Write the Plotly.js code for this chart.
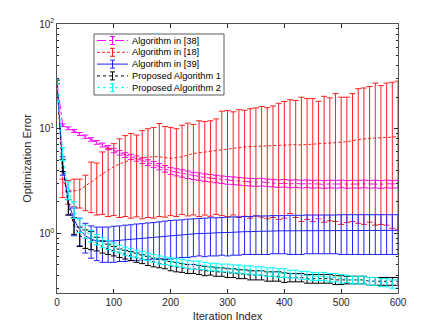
<!DOCTYPE html>
<html>
<head>
<meta charset="utf-8">
<script src="https://cdn.plot.ly/plotly-3.0.1.min.js"></script>
<style>
  html, body { margin: 0; padding: 0; background: #fff; }
  #plot { width: 440px; height: 330px; }
</style>
</head>
<body>
<div id="plot"></div>
<script>
// iteration index (one error bar every 10 iterations)
var iters = [0,10,20,30,40,50,60,70,80,90,100,110,120,130,140,150,160,170,180,190,200,
  210,220,230,240,250,260,270,280,290,300,310,320,330,340,350,360,370,380,390,400,
  410,420,430,440,450,460,470,480,490,500,510,520,530,540,550,560,570,580,590,600];

// Algorithm in [38]
var alg38Mean = [28,10.8,10.1,9.5,8.9,8.4,7.9,7.4,7.0,6.6,6.2,5.9,5.6,5.4,5.2,4.95,4.75,4.55,4.35,4.15,3.95,
  3.85,3.75,3.65,3.55,3.5,3.42,3.38,3.32,3.27,3.22,3.2,3.16,3.12,3.1,3.08,3.1,3.05,3.03,3.0,3.02,
  2.98,3.0,2.97,2.99,2.96,2.98,2.95,2.97,2.96,2.98,2.95,2.97,2.96,2.98,2.96,2.97,2.95,2.98,2.96,2.97];
var alg38Err = [1.0,0.3,0.3,0.3,0.3,0.3,0.3,0.3,0.3,0.3,0.3,0.3,0.3,0.3,0.3,0.3,0.3,0.3,0.3,0.3,0.3,
  0.3,0.3,0.3,0.28,0.28,0.28,0.28,0.27,0.27,0.27,0.27,0.26,0.26,0.26,0.26,0.26,0.25,0.25,0.25,0.25,
  0.25,0.25,0.25,0.25,0.25,0.25,0.25,0.25,0.25,0.25,0.25,0.25,0.25,0.25,0.25,0.25,0.25,0.25,0.25,0.25];

// Algorithm in [18]
var alg18Mean = [28,3.2,2.6,2.55,2.6,2.85,3.1,3.4,3.7,4.0,4.35,4.6,4.85,5.05,5.2,5.3,5.35,5.4,5.4,5.3,5.2,
  5.3,5.4,5.6,5.8,5.9,6.0,6.1,6.25,6.35,6.45,6.55,6.6,6.7,6.75,6.8,6.85,6.9,6.95,7.0,7.05,
  7.1,7.05,7.0,7.05,7.1,7.15,7.2,7.25,7.3,7.4,7.5,7.7,7.9,8.0,8.1,8.2,8.2,8.25,8.3,8.4];
var alg18Upper = [29,3.3,3.2,3.3,3.3,3.6,4.8,4.7,6.0,6.5,7.2,8.0,8.6,9.0,8.7,9.6,10.0,10.3,11.2,10.5,10.3,
  10.0,10.8,11.3,11.0,11.9,11.7,11.9,12.4,14.7,14.9,14.5,15.2,15.0,15.5,15.8,16.3,15.9,16.5,17.5,18.2,
  18.9,18.6,20.0,19.4,19.4,18.3,20.4,19.7,21.6,20.0,20.0,21.6,24.1,24.5,25.3,27.3,25.8,27.3,27.8,28.5];
var alg18Lower = [27,2.2,1.9,1.8,1.75,1.65,1.58,1.5,1.52,1.45,1.48,1.42,1.45,1.4,1.44,1.38,1.42,1.4,1.45,1.43,1.48,
  1.45,1.52,1.47,1.5,1.45,1.5,1.46,1.52,1.48,1.45,1.5,1.42,1.46,1.4,1.47,1.43,1.38,1.42,1.36,1.4,
  1.55,1.42,1.3,1.36,1.3,1.38,1.28,1.32,1.3,1.22,1.27,1.3,1.25,1.22,1.28,1.2,1.22,1.2,1.12,1.08];

// Algorithm in [39]
var alg39Mean = [28,4.5,2.0,1.35,1.08,0.95,0.88,0.85,0.84,0.84,0.85,0.86,0.87,0.88,0.89,0.9,0.91,0.92,0.93,0.94,0.95,
  0.96,0.97,0.98,0.99,1.0,1.0,1.01,1.01,1.02,1.02,1.03,1.03,1.04,1.04,1.05,1.05,1.05,1.06,1.06,1.06,
  1.06,1.06,1.06,1.07,1.07,1.07,1.07,1.07,1.07,1.07,1.07,1.07,1.07,1.07,1.07,1.07,1.07,1.07,1.07,1.07];
var alg39Err = [1.0,0.9,0.5,0.4,0.32,0.3,0.3,0.3,0.31,0.31,0.32,0.32,0.33,0.33,0.34,0.34,0.35,0.35,0.36,0.37,0.38,
  0.38,0.38,0.39,0.39,0.39,0.4,0.4,0.4,0.4,0.41,0.41,0.41,0.41,0.41,0.42,0.42,0.42,0.42,0.42,0.42,
  0.43,0.43,0.43,0.43,0.43,0.43,0.43,0.43,0.43,0.44,0.44,0.44,0.44,0.44,0.44,0.44,0.44,0.44,0.44,0.44];

// Proposed Algorithm 1
var prop1Mean = [28,4.5,1.8,1.2,0.95,0.9,0.87,0.8,0.75,0.71,0.68,0.65,0.63,0.61,0.59,0.57,0.55,0.53,0.52,0.51,0.49,
  0.48,0.47,0.46,0.46,0.45,0.44,0.44,0.43,0.43,0.42,0.42,0.41,0.41,0.4,0.4,0.4,0.39,0.39,0.39,0.38,
  0.38,0.38,0.38,0.37,0.37,0.37,0.37,0.37,0.36,0.36,0.36,0.36,0.36,0.36,0.35,0.35,0.35,0.35,0.35,0.35];
var prop1Err = [1.0,0.6,0.3,0.22,0.2,0.18,0.17,0.12,0.1,0.08,0.07,0.06,0.06,0.06,0.06,0.055,0.055,0.05,0.05,0.05,0.05,
  0.05,0.045,0.045,0.045,0.045,0.045,0.04,0.04,0.04,0.04,0.04,0.04,0.04,0.04,0.04,0.04,0.04,0.04,0.04,0.04,
  0.035,0.035,0.035,0.035,0.035,0.035,0.035,0.035,0.035,0.035,0.03,0.03,0.03,0.03,0.03,0.03,0.03,0.03,0.03,0.03];

// Proposed Algorithm 2
var prop2Mean = [28,5.8,2.6,1.7,1.2,1.05,0.95,0.88,0.82,0.78,0.74,0.71,0.68,0.66,0.64,0.62,0.6,0.58,0.56,0.55,0.54,
  0.53,0.52,0.51,0.5,0.5,0.49,0.48,0.48,0.47,0.47,0.46,0.46,0.45,0.45,0.44,0.44,0.43,0.43,0.42,0.42,
  0.41,0.41,0.4,0.4,0.39,0.39,0.39,0.38,0.38,0.37,0.37,0.36,0.36,0.36,0.35,0.35,0.34,0.34,0.33,0.33];
var prop2Err = [1.2,0.8,0.5,0.3,0.18,0.15,0.12,0.1,0.09,0.08,0.07,0.06,0.06,0.06,0.055,0.055,0.05,0.05,0.05,0.045,0.045,
  0.045,0.045,0.045,0.045,0.045,0.04,0.04,0.04,0.04,0.04,0.04,0.04,0.04,0.04,0.04,0.04,0.04,0.04,0.04,0.04,
  0.035,0.035,0.035,0.035,0.035,0.035,0.035,0.035,0.035,0.035,0.03,0.03,0.03,0.03,0.03,0.03,0.03,0.03,0.03,0.03];

var names = ["Algorithm in [38]", "Algorithm in [18]", "Algorithm in [39]",
  "Proposed Algorithm 1", "Proposed Algorithm 2"];
var colors = ["#ff00ff", "#ff2020", "#2020ff", "#000000", "#00ffff"];
var dashes = ["dashdot", "3px,2px", "solid", "dot", "dot"];

function errTrace(i, y, plus, minus) {
  return {
    x: iters, y: y, name: names[i], type: "scatter", mode: "lines",
    line: {color: colors[i], width: 1, dash: dashes[i]},
    error_y: {type: "data", symmetric: false, array: plus, arrayminus: minus,
      color: colors[i], thickness: 1, width: 3}
  };
}

var alg18Plus = alg18Upper.map((u, i) => u - alg18Mean[i]);
var alg18Minus = alg18Lower.map((l, i) => alg18Mean[i] - l);

var data = [
  errTrace(0, alg38Mean, alg38Err, alg38Err),
  errTrace(1, alg18Mean, alg18Plus, alg18Minus),
  errTrace(2, alg39Mean, alg39Err, alg39Err),
  errTrace(3, prop1Mean, prop1Err, prop1Err),
  errTrace(4, prop2Mean, prop2Err, prop2Err)
];

var minorVals = [];
[0.1, 1, 10].forEach(d => { for (var k = 2; k <= 9; k++) minorVals.push(k * d); });

// compact legend box (MATLAB style), placed in pixels of the 440x330 figure
var W = 440, H = 330, M = {l: 57, r: 42, t: 24, b: 37};
var pw = W - M.l - M.r, ph = H - M.t - M.b;
function px(x) { return (x - M.l) / pw; }
function py(y) { return (H - M.b - y) / ph; }

var shapes = [{type: "rect", xref: "paper", yref: "paper",
  x0: px(94), x1: px(224), y0: py(34), y1: py(95),
  fillcolor: "#fff", line: {color: "#333", width: 0.8}, layer: "above"}];
var annotations = [];
names.forEach((n, i) => {
  var ry = 40.5 + i * 11.8;
  shapes.push({type: "line", xref: "paper", yref: "paper", x0: px(97), x1: px(128), y0: py(ry), y1: py(ry),
    line: {color: colors[i], width: 1, dash: dashes[i]}, layer: "above"});
  shapes.push({type: "line", xref: "paper", yref: "paper", x0: px(112.5), x1: px(112.5), y0: py(ry - 4), y1: py(ry + 4),
    line: {color: colors[i], width: 1}, layer: "above"});
  [-4, 4].forEach(d => shapes.push({type: "line", xref: "paper", yref: "paper", x0: px(110), x1: px(115),
    y0: py(ry + d), y1: py(ry + d), line: {color: colors[i], width: 1}, layer: "above"}));
  annotations.push({xref: "paper", yref: "paper", x: px(130), y: py(ry), xanchor: "left", yanchor: "middle",
    text: n, showarrow: false, font: {family: "Liberation Sans, Arial, sans-serif", size: 9.3, color: "#000"}});
});

var axisFont = {family: "Liberation Sans, Arial, sans-serif", size: 10, color: "#262626"};

var layout = {
  width: W, height: H,
  margin: M,
  paper_bgcolor: "#fff", plot_bgcolor: "#fff",
  showlegend: false,
  shapes: shapes,
  annotations: annotations,
  xaxis: {
    range: [0, 600], dtick: 100, tick0: 0,
    ticks: "inside", ticklen: 4, tickcolor: "#262626",
    showline: true, linecolor: "#262626", linewidth: 0.8, mirror: "ticks",
    showgrid: false, zeroline: false, tickfont: axisFont,
    title: {text: "Iteration Index", font: {family: "Liberation Sans, Arial, sans-serif", size: 11, color: "#262626"}, standoff: 5}
  },
  yaxis: {
    type: "log", range: [Math.log10(0.27), 2],
    tickvals: [1, 10, 100], ticktext: ["10<sup>0</sup>", "10<sup>1</sup>", "10<sup>2</sup>"],
    ticks: "inside", ticklen: 4, tickcolor: "#262626",
    minor: {tickvals: minorVals, ticks: "inside", ticklen: 2, tickcolor: "#262626"},
    showline: true, linecolor: "#262626", linewidth: 0.8, mirror: "ticks",
    showgrid: false, zeroline: false, tickfont: axisFont,
    title: {text: "Optimization Error", font: {family: "Liberation Sans, Arial, sans-serif", size: 11, color: "#262626"}, standoff: 5}
  }
};

Plotly.newPlot("plot", data, layout, {displayModeBar: false, staticPlot: true});
</script>
</body>
</html>
